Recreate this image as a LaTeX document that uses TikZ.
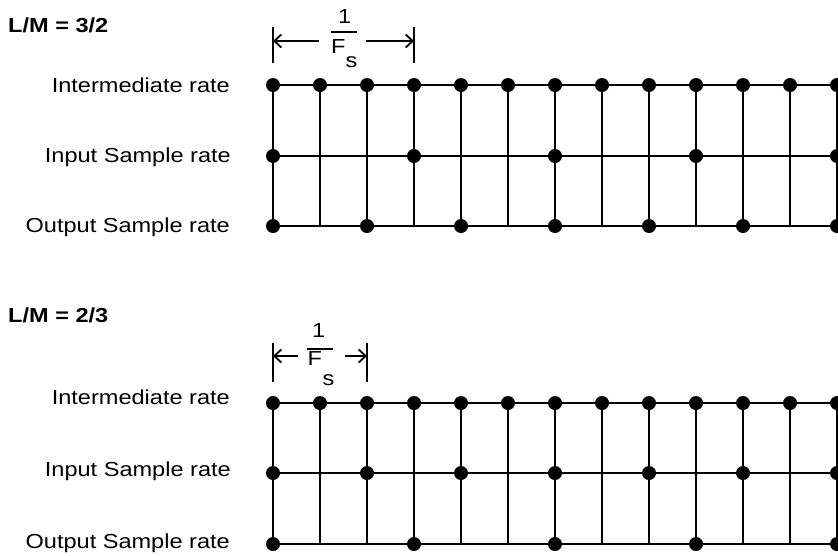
\documentclass[tikz,border=0pt]{standalone}
\usepackage{fontspec}
\setmainfont[FakeStretch=1.16]{Liberation Sans}
\usetikzlibrary{arrows.meta}

\tikzset{
  rate/.style={anchor=base east, inner sep=0pt},
  ratio/.style={anchor=base west, inner sep=0pt, font=\fontsize{20.3}{24}\selectfont\bfseries},
  frac/.style={anchor=base west, inner sep=0pt},
  gridline/.style={line width=2pt},
  inline/.style={line width=1.6pt},
  span/.style={line width=1.8pt, -{Straight Barb[length=7pt,width=13pt,line width=1.8pt]}},
}

\begin{document}
\begin{tikzpicture}[x=1pt,y=-1pt, font=\fontsize{20.3}{24}\selectfont]
    \useasboundingbox (0,0) rectangle (838,555);

    % ---------- L/M = 3/2 ----------
    \node[ratio] (ttlA) at (8,32) {L/M = 3/2};
    \node[rate] (intA) at (230,92) {Intermediate rate};
    \node[rate] (inpA) at (231,162.5) {Input Sample rate};
    \node[rate] (outA) at (230,232.5) {Output Sample rate};

    % body of the grid
    \foreach \k in {0,...,12} {
        \coordinate (iA\k) at (273+47*\k,85);
        \coordinate (nA\k) at (273+47*\k,156);
        \coordinate (oA\k) at (273+47*\k,226);
    }
    \draw[gridline] (iA0) -- (iA12) -- ++(6,0);
    \draw[inline] (nA0) -- (nA12) -- ++(6,0);
    \draw[gridline] (oA0) -- (oA12) -- ++(6,0);
    \foreach \k in {0,...,12}
        \draw[gridline] (iA\k) -- (oA\k);

    % samples
    \foreach \k in {0,...,12}
        \fill (iA\k) circle (7pt);
    \foreach \k in {0,3,...,12}
        \fill (nA\k) circle (7pt);
    \foreach \k in {0,2,...,12}
        \fill (oA\k) circle (7pt);

    % period 1/Fs
    \coordinate (tkAl) at (273,27);
    \coordinate (tkAr) at (414,27);
    \draw[gridline] (tkAl) -- ++(0,36);
    \draw[gridline] (tkAr) -- ++(0,36);
    \coordinate (arAl) at (273,41);
    \coordinate (arAr) at (414,41);
    \coordinate (arAml) at (319,41);
    \coordinate (arAmr) at (366,41);
    \draw[span] (arAml) -- (arAl);
    \draw[span] (arAmr) -- (arAr);
    \node[frac] (oneA) at (338,23) {1};
    \draw[gridline] (331,31.5) -- (357,31.5);
    \node[frac] (fsA) at (331,53.5) {F};
    \node[frac] (sA) at (345.5,67.5) {s};

    % ---------- L/M = 2/3 ----------
    \node[ratio] (ttlB) at (8,322.5) {L/M = 2/3};
    \node[rate] (intB) at (230,404) {Intermediate rate};
    \node[rate] (inpB) at (231,476) {Input Sample rate};
    \node[rate] (outB) at (230,548) {Output Sample rate};

    % body of the grid
    \foreach \k in {0,...,12} {
        \coordinate (iB\k) at (273+47*\k,403);
        \coordinate (nB\k) at (273+47*\k,473);
        \coordinate (oB\k) at (273+47*\k,544);
    }
    \draw[gridline] (iB0) -- (iB12) -- ++(6,0);
    \draw[inline] (nB0) -- (nB12) -- ++(6,0);
    \draw[gridline] (oB0) -- (oB12) -- ++(6,0);
    \foreach \k in {0,...,12}
        \draw[gridline] (iB\k) -- (oB\k);

    % samples
    \foreach \k in {0,...,12}
        \fill (iB\k) circle (7pt);
    \foreach \k in {0,2,...,12}
        \fill (nB\k) circle (7pt);
    \foreach \k in {0,3,...,12}
        \fill (oB\k) circle (7pt);

    % period 1/Fs
    \coordinate (tkBl) at (273,343);
    \coordinate (tkBr) at (367,343);
    \draw[gridline] (tkBl) -- ++(0,39);
    \draw[gridline] (tkBr) -- ++(0,39);
    \coordinate (arBl) at (273,356);
    \coordinate (arBr) at (367,356);
    \coordinate (arBml) at (298,356);
    \coordinate (arBmr) at (345,356);
    \draw[span] (arBml) -- (arBl);
    \draw[span] (arBmr) -- (arBr);
    \node[frac] (oneB) at (312,337) {1};
    \draw[gridline] (307,348.5) -- (333,348.5);
    \node[frac] (fsB) at (307.5,365.5) {F};
    \node[frac] (sB) at (322.5,385) {s};
\end{tikzpicture}
\end{document}
